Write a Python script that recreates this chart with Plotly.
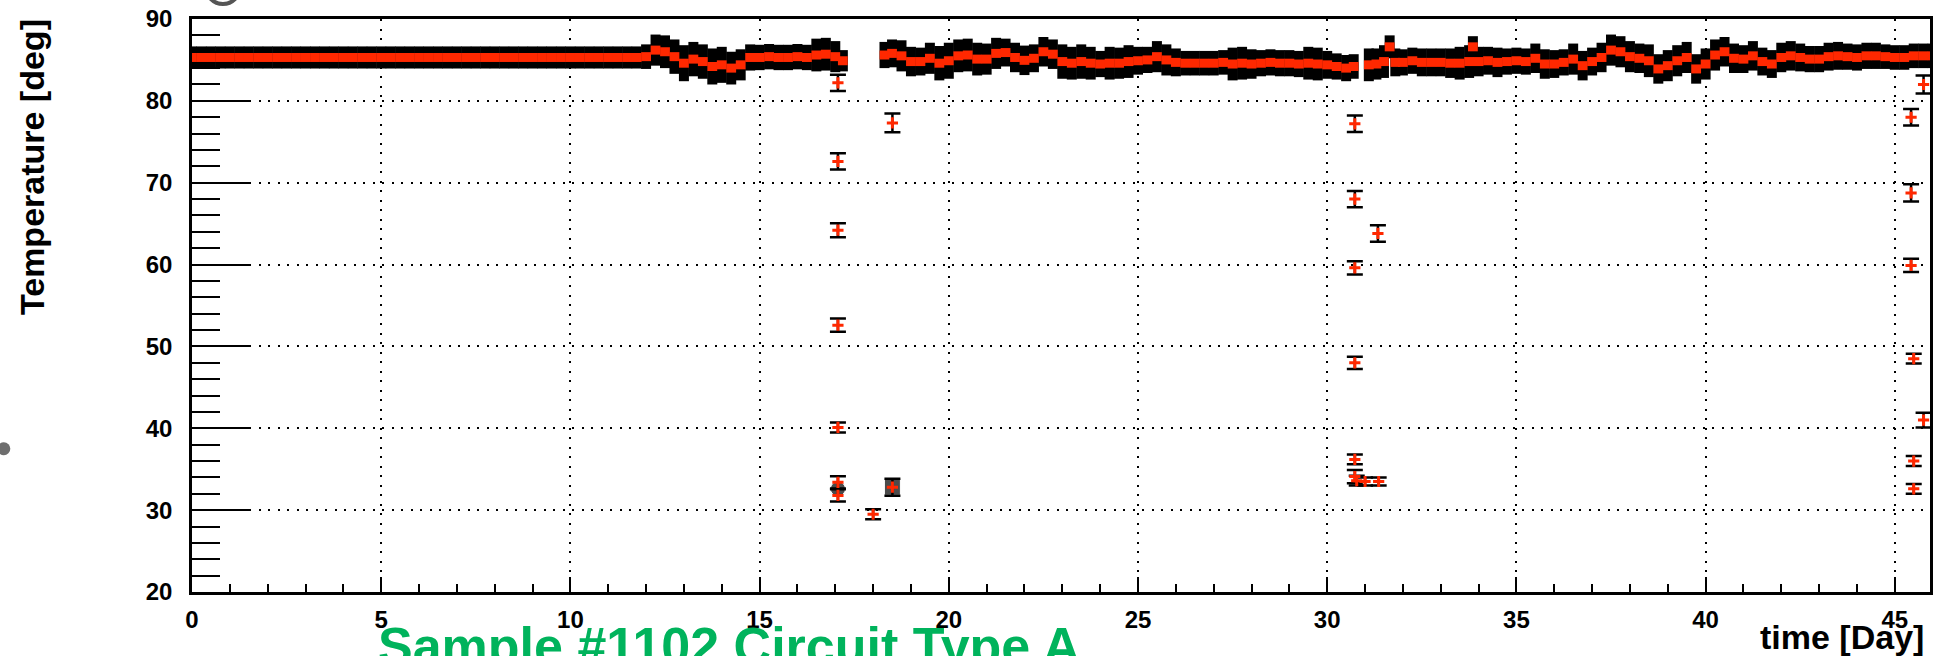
import plotly.graph_objects as go

# ---------------- data ----------------
# main (continuous) temperature record: time [Day], temperature [deg], error [deg]
main_day = [
    0.0, 0.25, 0.5, 0.75, 1.0, 1.25, 1.5, 1.75, 2.0, 2.25, 2.5, 2.75, 3.0, 3.25, 3.5, 3.75,
    4.0, 4.25, 4.5, 4.75, 5.0, 5.25, 5.5, 5.75, 6.0, 6.25, 6.5, 6.75, 7.0, 7.25, 7.5, 7.75,
    8.0, 8.25, 8.5, 8.75, 9.0, 9.25, 9.5, 9.75, 10.0, 10.25, 10.5, 10.75, 11.0, 11.25, 11.5, 11.75,
    12.0, 12.25, 12.5, 12.75, 13.0, 13.25, 13.5, 13.75, 14.0, 14.25, 14.5, 14.75, 15.0, 15.25,
    15.5, 15.75, 16.0, 16.25, 16.5, 16.75, 17.0, 17.2,
    18.3, 18.5, 18.75, 19.0, 19.25, 19.5, 19.75, 20.0, 20.25, 20.5, 20.75, 21.0, 21.25, 21.5,
    21.75, 22.0, 22.25, 22.5, 22.75, 23.0, 23.25, 23.5, 23.75, 24.0, 24.25, 24.5, 24.75, 25.0,
    25.25, 25.5, 25.75, 26.0, 26.25, 26.5, 26.75, 27.0, 27.25, 27.5, 27.75, 28.0, 28.25, 28.5,
    28.75, 29.0, 29.25, 29.5, 29.75, 30.0, 30.25, 30.5, 30.7,
    31.1, 31.3, 31.5, 31.65, 31.8, 32.0, 32.25, 32.5, 32.75, 33.0, 33.25, 33.5, 33.75, 33.85,
    34.0, 34.25, 34.5, 34.75, 35.0, 35.25, 35.5, 35.75, 36.0, 36.25, 36.5, 36.75, 37.0, 37.25,
    37.5, 37.75, 38.0, 38.25, 38.5, 38.75, 39.0, 39.25, 39.5, 39.75, 40.0, 40.25, 40.5, 40.75,
    41.0, 41.25, 41.5, 41.75, 42.0, 42.25, 42.5, 42.75, 43.0, 43.25, 43.5, 43.75, 44.0, 44.25,
    44.5, 44.75, 45.0, 45.25, 45.5, 45.75, 46.0,
]
main_temp = [
    85.3, 85.3, 85.3, 85.3, 85.3, 85.3, 85.3, 85.3, 85.3, 85.3, 85.3, 85.3, 85.3, 85.3, 85.3, 85.3,
    85.3, 85.3, 85.3, 85.3, 85.3, 85.3, 85.3, 85.3, 85.3, 85.3, 85.3, 85.3, 85.3, 85.3, 85.3, 85.3,
    85.3, 85.3, 85.3, 85.3, 85.3, 85.3, 85.3, 85.3, 85.3, 85.3, 85.3, 85.3, 85.3, 85.3, 85.3, 85.3,
    85.4, 86.2, 86.0, 85.4, 84.6, 85.1, 84.8, 84.2, 84.4, 84.0, 84.4, 85.3, 85.3, 85.4,
    85.3, 85.3, 85.4, 85.3, 85.6, 85.7, 85.4, 84.9,
    85.6, 85.8, 85.5, 84.8, 84.8, 85.2, 84.6, 84.9, 85.5, 85.6, 85.1, 85.1, 85.8, 85.9,
    85.3, 84.95, 85.2, 86.0, 85.7, 84.8, 84.6, 84.8, 84.6, 84.5, 84.6, 84.6, 84.8, 84.9,
    85.0, 85.4, 85.0, 84.7, 84.6, 84.6, 84.6, 84.6, 84.7, 84.5, 84.6, 84.5, 84.6, 84.7,
    84.6, 84.6, 84.5, 84.6, 84.5, 84.4, 84.2, 84.0, 84.2,
    84.4, 84.5, 84.8, 86.6, 84.7, 84.7, 84.9, 84.7, 84.7, 84.7, 84.6, 84.6, 84.8, 86.6,
    84.8, 84.9, 84.7, 84.8, 84.9, 84.8, 85.2, 84.5, 84.5, 84.7, 85.1, 84.3, 84.8, 85.3,
    86.2, 86.0, 85.4, 85.2, 84.9, 83.9, 84.3, 84.9, 85.3, 83.9, 84.5, 85.6, 86.0, 85.2,
    85.1, 85.5, 84.8, 84.5, 85.3, 85.5, 85.3, 85.1, 85.1, 85.4, 85.5, 85.4, 85.3, 85.5,
    85.5, 85.4, 85.3, 85.3, 85.5, 85.5, 85.5,
]
main_err = [
    1.35, 1.35, 1.35, 1.35, 1.35, 1.35, 1.35, 1.35, 1.35, 1.35, 1.35, 1.35, 1.35, 1.35, 1.35, 1.35,
    1.35, 1.35, 1.35, 1.35, 1.35, 1.35, 1.35, 1.35, 1.35, 1.35, 1.35, 1.35, 1.35, 1.35, 1.35, 1.35,
    1.35, 1.35, 1.35, 1.35, 1.35, 1.35, 1.35, 1.35, 1.35, 1.35, 1.35, 1.35, 1.35, 1.35, 1.35, 1.35,
    1.5, 1.9, 2.0, 2.1, 2.2, 2.1, 2.1, 2.2, 2.2, 2.0, 1.9, 1.6, 1.55, 1.55,
    1.55, 1.55, 1.55, 1.55, 2.0, 2.0, 1.9, 1.3,
    1.6, 1.7, 1.9, 1.8, 1.7, 1.9, 2.1, 2.2, 2.0, 2.0, 2.0, 1.9, 1.9, 1.7,
    1.8, 1.8, 1.7, 1.8, 1.8, 2.1, 2.0, 2.1, 2.0, 1.6, 2.0, 1.9, 2.0, 1.7,
    1.6, 1.9, 1.9, 1.7, 1.5, 1.5, 1.5, 1.5, 1.5, 2.0, 2.0, 1.8, 1.6, 1.6,
    1.6, 1.6, 1.6, 2.0, 2.0, 1.7, 1.6, 1.6, 1.5,
    2.0, 1.9, 2.0, 1.4, 1.7, 1.6, 1.6, 1.7, 1.7, 1.7, 1.8, 2.0, 2.0, 1.3,
    1.8, 1.7, 1.8, 1.6, 1.6, 1.6, 1.8, 1.8, 1.7, 1.6, 1.9, 1.8, 1.7, 1.8,
    1.9, 1.9, 1.9, 1.8, 2.0, 1.8, 1.9, 1.9, 1.9, 1.8, 1.9, 1.9, 1.8, 1.8,
    1.7, 1.8, 1.7, 1.7, 1.8, 1.8, 1.7, 1.6, 1.6, 1.7, 1.7, 1.6, 1.6, 1.6,
    1.6, 1.5, 1.5, 1.5, 1.5, 1.5, 1.5,
]

# isolated readings during the cool-down / warm-up transients
trans_day = [17.07, 17.07, 17.07, 17.07, 17.07, 17.07, 17.07, 18.0, 18.51, 18.51,
             30.73, 30.73, 31.34, 30.73, 30.73, 30.73, 30.73, 30.78, 31.0, 31.36,
             45.76, 45.43, 45.43, 45.43, 45.5, 45.76, 45.5, 45.5]
trans_temp = [82.2, 72.6, 64.2, 52.6, 40.1, 33.4, 31.8, 29.5, 77.3, 32.8,
              77.2, 68.0, 63.8, 59.6, 48.0, 36.2, 34.1, 33.6, 33.5, 33.5,
              82.0, 78.0, 68.75, 59.9, 48.5, 41.0, 36.0, 32.6]
trans_err = [1.0, 1.0, 0.85, 0.8, 0.6, 0.75, 0.75, 0.6, 1.15, 1.05,
             1.0, 1.0, 1.0, 0.8, 0.75, 0.6, 0.8, 0.6, 0.5, 0.5,
             1.1, 1.0, 1.05, 0.8, 0.6, 0.9, 0.6, 0.6]

# overlapping readings that render as solid black blobs
blob_day = [17.07, 18.51]
blob_temp = [32.6, 32.8]
blob_symbol = ["circle", "square"]

x_ticks = [0, 5, 10, 15, 20, 25, 30, 35, 40, 45]
y_ticks = [20, 30, 40, 50, 60, 70, 80, 90]

assert len(main_day) == len(main_temp) == len(main_err)
assert len(trans_day) == len(trans_temp) == len(trans_err)

RED = "#ff2800"
FONT = "Liberation Sans"

fig = go.Figure()

fig.add_trace(go.Scatter(
    x=main_day, y=main_temp, mode="markers",
    marker=dict(symbol="line-ew", size=7, color=RED, line=dict(width=9, color=RED)),
    error_y=dict(type="data", array=main_err, visible=True, color="black",
                 thickness=10, width=0),
    hoverinfo="x+y",
))

fig.add_trace(go.Scatter(
    x=blob_day, y=blob_temp, mode="markers",
    marker=dict(symbol=blob_symbol, size=[15, 16], color="black"),
    hoverinfo="x+y",
))

fig.add_trace(go.Scatter(
    x=trans_day, y=trans_temp, mode="markers",
    marker=dict(symbol="cross-thin", size=8, color=RED, line=dict(width=3, color=RED)),
    error_y=dict(type="data", array=trans_err, visible=True, color="black",
                 thickness=2.5, width=8),
    hoverinfo="x+y",
))

axis_common = dict(
    showline=True, linecolor="black", linewidth=2.5, mirror=True,
    ticks="inside", tickcolor="black", tickwidth=2.3,
    showgrid=True, gridcolor="black", gridwidth=2, griddash="2px,7.5px",
    zeroline=False,
    tickfont=dict(family=FONT, size=24, color="black", weight="bold"),
)

fig.update_xaxes(
    range=[0, 45.93], tickmode="array", tickvals=x_ticks,
    ticktext=[str(v) for v in x_ticks], ticklen=15, ticklabelstandoff=4,
    minor=dict(dtick=1, tick0=0, ticks="inside", ticklen=8, tickwidth=2.3,
               tickcolor="black", showgrid=False),
    **axis_common,
)
fig.update_yaxes(
    range=[20, 90], tickmode="array", tickvals=y_ticks,
    ticktext=[str(v) for v in y_ticks], ticklen=57, ticklabelstandoff=12,
    minor=dict(dtick=2, tick0=20, ticks="inside", ticklen=28, tickwidth=2.3,
               tickcolor="black", showgrid=False),
    **axis_common,
)

# plot frame in pixels: left 192, right 1933, top 18, bottom 592
PL, PR, PT, PB = 192, 1933, 18, 592


def px(xp):
    return (xp - PL) / (PR - PL)


def py(yp):
    return (PB - yp) / (PB - PT)


fig.update_layout(
    width=1938, height=656,
    margin=dict(l=PL, r=1938 - PR, t=PT, b=656 - PB, pad=0),
    plot_bgcolor="white", paper_bgcolor="white",
    showlegend=False,
    font=dict(family=FONT, color="black"),
    annotations=[
        dict(text="Temperature [deg]", xref="paper", yref="paper",
             x=px(31), y=py(166), xanchor="center", yanchor="middle",
             textangle=-90, showarrow=False,
             font=dict(family=FONT, size=34, color="black", weight="bold")),
        dict(text="time [Day]", xref="paper", yref="paper",
             x=px(1929), y=py(616), xanchor="right", yanchor="top",
             showarrow=False,
             font=dict(family=FONT, size=34, color="black", weight="bold")),
        dict(text="Sample #1102 Circuit Type A", xref="paper", yref="paper",
             x=px(376), y=py(615), xanchor="left", yanchor="top",
             showarrow=False,
             font=dict(family=FONT, size=52, color="#00b35c", weight="bold")),
    ],
    shapes=[
        dict(type="circle", xref="paper", yref="paper",
             x0=px(-3), x1=px(10), y0=py(455), y1=py(442),
             fillcolor="#6e6e6e", line=dict(width=0)),
        dict(type="circle", xref="paper", yref="paper",
             x0=px(206), x1=px(240), y0=py(3), y1=py(-31),
             fillcolor="rgba(0,0,0,0)", line=dict(width=4, color="#555555")),
    ],
)

fig.write_html("out.html")
